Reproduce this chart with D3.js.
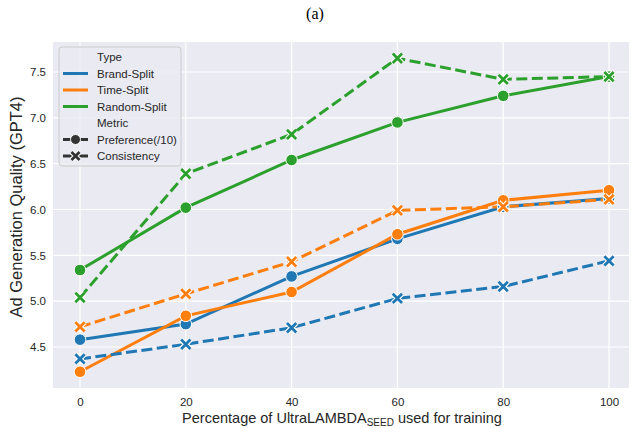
<!DOCTYPE html>
<html><head><meta charset="utf-8">
<script src="https://cdn.jsdelivr.net/npm/d3@7"></script>
<style>html,body{margin:0;padding:0;background:#fff;}svg{display:block;}</style>
</head><body>
<script>
const xValues = [0, 20, 40, 60, 80, 100];
const xTicks = [0, 20, 40, 60, 80, 100];
const yTicks = [4.5, 5.0, 5.5, 6.0, 6.5, 7.0, 7.5];
const types = ["Brand-Split", "Time-Split", "Random-Split"];
const metrics = ["Preference(/10)", "Consistency"];
const colors = ["#1f77b4", "#ff7f0e", "#2ca02c"];
const brandPreference = [4.58, 4.75, 5.27, 5.68, 6.03, 6.12];
const brandConsistency = [4.37, 4.53, 4.71, 5.03, 5.16, 5.44];
const timePreference = [4.23, 4.84, 5.10, 5.73, 6.10, 6.21];
const timeConsistency = [4.72, 5.08, 5.43, 5.99, 6.03, 6.11];
const randomPreference = [5.34, 6.02, 6.54, 6.95, 7.24, 7.45];
const randomConsistency = [5.04, 6.39, 6.82, 7.65, 7.42, 7.45];

const series = [
  {type: 0, metric: 0, values: brandPreference},
  {type: 1, metric: 0, values: timePreference},
  {type: 2, metric: 0, values: randomPreference},
  {type: 0, metric: 1, values: brandConsistency},
  {type: 1, metric: 1, values: timeConsistency},
  {type: 2, metric: 1, values: randomConsistency}
];

const W = 631, H = 428;
const plot = {left: 53, right: 629, top: 42, bottom: 388};
const FONT = "'Liberation Sans', Arial, Helvetica, sans-serif";
const svg = d3.select("body").append("svg").attr("width", W).attr("height", H)
  .style("font-family", FONT);

const x = d3.scaleLinear().domain([0, 100]).range([80, 609]);
const y = d3.scaleLinear().domain([4.5, 7.5]).range([347, 72]);

svg.append("rect").attr("x", plot.left).attr("y", plot.top)
  .attr("width", plot.right - plot.left).attr("height", plot.bottom - plot.top)
  .attr("fill", "#eaeaf2");

// grid
svg.append("g").selectAll("line").data(xTicks).join("line")
  .attr("x1", d => x(d)).attr("x2", d => x(d)).attr("y1", plot.top).attr("y2", plot.bottom)
  .attr("stroke", "#fff").attr("stroke-width", 1.2);
svg.append("g").selectAll("line").data(yTicks).join("line")
  .attr("x1", plot.left).attr("x2", plot.right).attr("y1", d => y(d)).attr("y2", d => y(d))
  .attr("stroke", "#fff").attr("stroke-width", 1.2);

// axes (tick labels only)
const xAxis = svg.append("g").attr("transform", `translate(0,${plot.bottom})`)
  .call(d3.axisBottom(x).tickValues(xTicks).tickSize(0).tickPadding(10).tickFormat(d3.format("d")));
xAxis.select(".domain").remove();
xAxis.selectAll("text").attr("font-size", 11.5).attr("fill", "#262626").attr("font-family", FONT);
const yAxis = svg.append("g").attr("transform", `translate(${plot.left},0)`)
  .call(d3.axisLeft(y).tickValues(yTicks).tickSize(0).tickPadding(7).tickFormat(d3.format(".1f")));
yAxis.select(".domain").remove();
yAxis.selectAll("text").attr("font-size", 11.5).attr("fill", "#262626").attr("font-family", FONT);

// lines
const line = d3.line().x((d, i) => x(xValues[i])).y(d => y(d));
const g = svg.append("g");
series.forEach(s => {
  g.append("path").datum(s.values).attr("d", line)
    .attr("fill", "none").attr("stroke", colors[s.type]).attr("stroke-width", 3)
    .attr("stroke-linecap", "butt")
    .attr("stroke-dasharray", s.metric === 1 ? "11,4.5" : null);
});
function drawMarker(sel, metric, color, cx, cy, r) {
  if (metric === 0) {
    sel.append("circle").attr("cx", cx).attr("cy", cy).attr("r", r)
      .attr("fill", color).attr("stroke", "#fff").attr("stroke-width", 1);
  } else {
    const a = r * 0.8;
    const p = `M${cx - a},${cy - a}L${cx + a},${cy + a}M${cx - a},${cy + a}L${cx + a},${cy - a}`;
    sel.append("path").attr("d", p).attr("stroke", "#fff").attr("stroke-width", 5).attr("stroke-linecap", "butt");
    sel.append("path").attr("d", p).attr("stroke", color).attr("stroke-width", 2.8).attr("stroke-linecap", "butt");
  }
}
series.forEach(s => {
  s.values.forEach((v, i) => drawMarker(g, s.metric, colors[s.type], x(xValues[i]), y(v), 5.8));
});

// title
svg.append("text").attr("x", 315).attr("y", 19).attr("text-anchor", "middle")
  .attr("font-family", "'Liberation Serif', 'Times New Roman', serif").attr("font-size", 16)
  .attr("fill", "#000").text("(a)");

// axis labels
const xl = svg.append("text").attr("x", 342).attr("y", 423).attr("text-anchor", "middle")
  .attr("font-size", 14.5).attr("fill", "#262626");
xl.append("tspan").text("Percentage of UltraLAMBDA");
xl.append("tspan").attr("font-size", 10).attr("dy", 3).text("SEED");
xl.append("tspan").attr("dy", -3).text(" used for training");
svg.append("text").attr("transform", "translate(22,207) rotate(-90)").attr("text-anchor", "middle")
  .attr("font-size", 16.5).attr("fill", "#262626").text("Ad Generation Quality (GPT4)");

// legend
const lg = svg.append("g");
lg.append("rect").attr("x", 59).attr("y", 47).attr("width", 122).attr("height", 119).attr("rx", 3)
  .attr("fill", "#eaeaf2").attr("fill-opacity", 0.8).attr("stroke", "#cccccc").attr("stroke-width", 1);
const rows = [
  {label: "Type", header: true},
  {label: types[0], type: 0},
  {label: types[1], type: 1},
  {label: types[2], type: 2},
  {label: "Metric", header: true},
  {label: metrics[0], metric: 0},
  {label: metrics[1], metric: 1}
];
rows.forEach((r, i) => {
  const ry = 57 + i * 16.5;
  if (r.header) {
    lg.append("text").attr("x", 97).attr("y", ry + 4).attr("font-size", 11.5).attr("fill", "#262626").text(r.label);
  } else {
    if (r.type !== undefined) {
      lg.append("line").attr("x1", 63).attr("x2", 88).attr("y1", ry).attr("y2", ry)
        .attr("stroke", colors[r.type]).attr("stroke-width", 3);
    } else {
      lg.append("line").attr("x1", 63).attr("x2", 88).attr("y1", ry).attr("y2", ry)
        .attr("stroke", "#333").attr("stroke-width", 3);
      drawMarker(lg, r.metric, "#333", 75.5, ry, 5);
    }
    lg.append("text").attr("x", 97).attr("y", ry + 4).attr("font-size", 11.5).attr("fill", "#262626").text(r.label);
  }
});
</script>
</body></html>
